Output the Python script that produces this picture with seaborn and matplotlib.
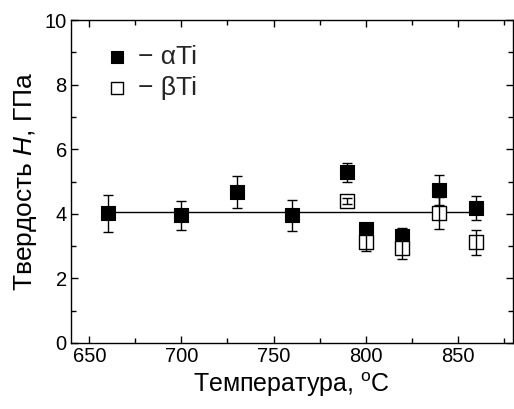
import numpy as np
import matplotlib
matplotlib.use("Agg")
import matplotlib.pyplot as plt
import seaborn as sns
from matplotlib.ticker import MultipleLocator

# --- data ---
alpha_t = [660, 700, 730, 760, 790, 800, 820, 840, 860]
alpha_h = [4.01, 3.95, 4.67, 3.95, 5.28, 3.52, 3.31, 4.73, 4.18]
alpha_err = [0.56, 0.45, 0.50, 0.49, 0.30, 0.20, 0.24, 0.46, 0.36]

beta_t = [790, 800, 820, 840, 860]
beta_h = [4.40, 3.14, 2.94, 4.02, 3.12]
beta_err = [0.10, 0.28, 0.35, 0.50, 0.39]

mean_t = [660, 860]
mean_h = [4.05, 4.05]

sns.set_theme(style="ticks")
plt.rcParams['font.family'] = ['Liberation Sans', 'DejaVu Sans']
plt.rcParams['mathtext.fontset'] = 'custom'
plt.rcParams['mathtext.rm'] = 'Liberation Sans'
plt.rcParams['mathtext.it'] = 'Liberation Sans:italic'

fig = plt.figure(figsize=(5.14, 4.09), dpi=100)
ax = fig.add_axes([0.138, 0.1614, 0.860, 0.7896])

# средняя линия
sns.lineplot(x=mean_t, y=mean_h, ax=ax, color='black', linewidth=1.0, zorder=1)

# точки
sns.scatterplot(x=alpha_t, y=alpha_h, ax=ax, marker='s', s=110, color='black',
                edgecolor='black', linewidth=0.8, zorder=3, label='\u2212 \u03b1Ti')
sns.scatterplot(x=beta_t, y=beta_h, ax=ax, marker='s', s=110, color='white',
                edgecolor='black', linewidth=1.0, zorder=4, label='\u2212 \u03b2Ti')

# погрешности
ax.errorbar(alpha_t, alpha_h, yerr=alpha_err, fmt='none', ecolor='black',
            elinewidth=1.0, capsize=3.5, capthick=1.0, zorder=2)
ax.errorbar(beta_t, beta_h, yerr=beta_err, fmt='none', ecolor='black',
            elinewidth=1.0, capsize=3.5, capthick=1.0, zorder=5)

ax.set_xlim(640, 880)
ax.set_ylim(0, 10)
ax.xaxis.set_major_locator(MultipleLocator(50))
ax.xaxis.set_minor_locator(MultipleLocator(25))
ax.yaxis.set_major_locator(MultipleLocator(2))
ax.yaxis.set_minor_locator(MultipleLocator(1))
ax.tick_params(which='both', direction='in', top=True, right=True,
               labelsize=14.5, width=1.0, color='black', labelcolor='black', pad=3)
ax.tick_params(which='major', length=5)
ax.tick_params(which='minor', length=3.5)
for sp in ax.spines.values():
    sp.set_visible(True)
    sp.set_color('black')
    sp.set_linewidth(1.0)

ax.set_xlabel('Температура, $^{\\rm o}$C', fontsize=18, color='black', labelpad=3)
ax.set_ylabel('Твердость $\\it{H}$, ГПа', fontsize=19, color='black', labelpad=4)

ax.legend(loc='upper left', bbox_to_anchor=(0.027, 0.98), frameon=False,
          fontsize=19, handletextpad=0.2, markerscale=0.8, labelspacing=0.25,
          borderpad=0.2, handlelength=1.2)

fig.savefig('out.png', dpi=100)
